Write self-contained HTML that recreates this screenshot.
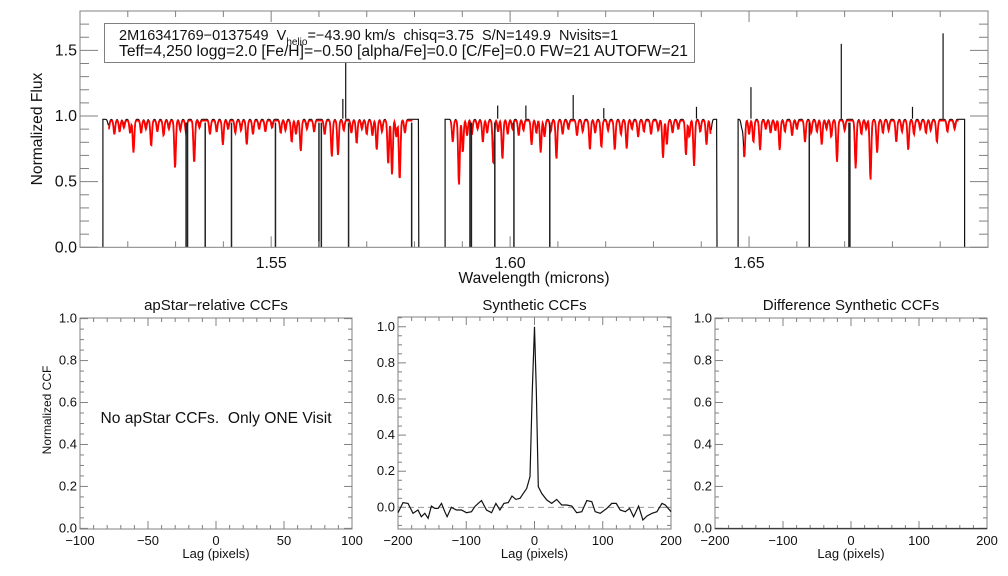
<!DOCTYPE html>
<html><head><meta charset="utf-8"><style>
body{margin:0;background:#fff}
svg{display:block;font-family:"Liberation Sans",sans-serif}
</style></head><body>
<svg id="fig" width="1008" height="576" viewBox="0 0 1008 576">
<rect width="1008" height="576" fill="#fff"/>
<g id="topPanel"></g>
<g id="p1"></g>
<g id="p2"></g>
<g id="p3"></g>
</svg>
<script>
// ---- spectrum data ----
const chipStarts=[1.5148,1.5864,1.6477];
const chipEnds=[1.5809,1.6433,1.6951];
const redDipWave=[1.5205,1.5212,1.5249,1.5299,1.5339,1.5399,1.5449,1.5543,1.5562,1.5627,1.5640,1.5679,1.5721,1.5745,1.5753,1.5769,
1.5893,1.5901,1.5943,1.5965,1.5984,1.6045,1.6064,1.6097,1.6167,1.6191,1.6219,1.6244,1.6320,1.6328,1.6368,1.6385,1.6411,
1.6490,1.6509,1.6523,1.6564,1.6617,1.6652,1.6684,1.6723,1.6754,1.6768,1.6808,1.6833,1.6893];
const redDipFlux=[0.87,0.72,0.77,0.60,0.64,0.78,0.78,0.80,0.73,0.69,0.70,0.79,0.74,0.63,0.55,0.51,
0.47,0.72,0.80,0.63,0.67,0.78,0.72,0.67,0.74,0.76,0.74,0.75,0.68,0.78,0.70,0.62,0.78,
0.68,0.80,0.74,0.74,0.80,0.78,0.65,0.60,0.51,0.72,0.80,0.74,0.80];
const shallowWave=[1.5160,1.5172,1.5183,1.5192,1.5228,1.5238,1.5262,1.5275,1.5286,1.5310,1.5322,1.5350,1.5372,1.5386,1.5410,1.5425,1.5437,1.5462,1.5475,1.5488,1.5502,1.5520,1.5530,1.5552,1.5575,1.5590,1.5612,1.5652,1.5668,1.5690,1.5700,1.5712,1.5732,1.5762,1.5780,
1.5880,1.5910,1.5920,1.5932,1.5952,1.5975,1.5995,1.6005,1.6018,1.6028,1.6055,1.6072,1.6085,1.6110,1.6122,1.6140,1.6152,1.6178,1.6205,1.6232,1.6255,1.6268,1.6280,1.6295,1.6310,1.6340,1.6352,1.6375,1.6398,1.6420,
1.6485,1.6500,1.6535,1.6545,1.6555,1.6575,1.6590,1.6600,1.6630,1.6642,1.6662,1.6672,1.6700,1.6735,1.6745,1.6780,1.6792,1.6820,1.6845,1.6858,1.6870,1.6880,1.6915,1.6930];
const shallowFlux=[0.90,0.86,0.88,0.91,0.87,0.90,0.88,0.85,0.90,0.89,0.87,0.91,0.86,0.88,0.90,0.87,0.89,0.86,0.90,0.88,0.91,0.87,0.89,0.86,0.90,0.88,0.86,0.89,0.87,0.90,0.86,0.85,0.88,0.84,0.87,
0.80,0.85,0.86,0.90,0.87,0.88,0.86,0.90,0.85,0.89,0.87,0.84,0.88,0.86,0.90,0.85,0.88,0.87,0.89,0.86,0.90,0.84,0.88,0.86,0.89,0.87,0.90,0.84,0.88,0.86,
0.88,0.86,0.90,0.87,0.89,0.88,0.85,0.90,0.87,0.88,0.90,0.84,0.89,0.86,0.90,0.87,0.89,0.88,0.86,0.90,0.87,0.89,0.88,0.90];
const zeroDropWave=[1.5322,1.5325,1.5362,1.5417,1.5509,1.5600,1.5605,1.5662,1.5794,1.5916,1.5919,1.5968,1.6008,1.6083,1.6626,1.6709,1.6711];
const spikeWave=[1.5656,1.5650,1.6132,1.5974,1.6033,1.6196,1.6390,1.6504,1.6693,1.6906,1.6842];
const spikeFlux=[1.41,1.13,1.16,1.08,1.08,1.06,1.07,1.22,1.55,1.63,1.07];
const xTicksTop=[1.55,1.60,1.65];
const yTicksTop=[0.0,0.5,1.0,1.5];
// ---- CCF data ----
const ccfLag=[-200,-192.7,-185.4,-178,-170.7,-165.8,-160.8,-155.9,-151,-146.1,-141.2,-136.3,-131.5,-128,-121.7,-114.4,-107,-99.6,-92.3,-87.4,-82.5,-77.6,-70.3,-62.9,-56.5,-50.7,-44.8,-38.4,-33,-27.2,-21.3,-16.4,-11.5,-6.6,-3.2,0,2.7,5.6,10.5,17.9,25.2,32.6,39.9,47.2,54.6,61.9,69.3,76.6,84,88.9,96.2,106,113.3,119.7,125.6,133,139.3,145.2,152.5,158.9,164.8,172.1,179.4,186.8,191.7,200];
const ccfVal=[-0.03,0.026,0.022,-0.033,-0.015,-0.052,-0.033,-0.061,0.007,-0.006,-0.006,0.022,-0.024,-0.052,0,-0.015,-0.015,-0.03,-0.024,0.004,0.022,0.037,-0.015,-0.03,0.022,-0.015,0.022,0.026,0.063,0.044,0.05,0.077,0.105,0.17,0.65,1.0,0.65,0.114,0.077,0.041,0.022,0.044,0.013,0.013,0.007,-0.03,-0.024,0.037,0.031,-0.024,-0.033,-0.006,0.022,0.022,-0.015,-0.024,-0.006,-0.052,0.007,-0.07,-0.048,-0.033,-0.024,0.022,0.013,-0.024];
const ccfYTicks=[0.0,0.2,0.4,0.6,0.8,1.0];
const lagTicks100=[-100,-50,0,50,100];
const lagTicks200=[-200,-100,0,100,200];

const NS='http://www.w3.org/2000/svg';
function el(tag,attrs,parent,txt){const e=document.createElementNS(NS,tag);for(const k in attrs)e.setAttribute(k,attrs[k]);if(txt!==undefined)e.textContent=txt;parent.appendChild(e);return e;}
const AX='#808080';
function fmt(v,d){return v<0?'\u2212'+Math.abs(v).toFixed(d):v.toFixed(d);}

// ---------- TOP PANEL ----------
const topG=document.getElementById('topPanel');
const T={x0:80,x1:988,y0:11,y1:247.3,wmin:1.51,wmax:1.70,fmin:0,fmax:1.8};
const sx=w=>T.x0+(w-T.wmin)/(T.wmax-T.wmin)*(T.x1-T.x0);
const sy=f=>T.y1-(f-T.fmin)/(T.fmax-T.fmin)*(T.y1-T.y0);
function profile(x,cont,waves,fluxes,sig){let f=cont;for(let i=0;i<waves.length;i++){const d=(x-sx(waves[i]))/sig;if(Math.abs(d)<4)f-=(cont-fluxes[i])*Math.exp(-d*d);}return f;}
const allW=redDipWave.concat(shallowWave), allF=redDipFlux.concat(shallowFlux);
const allFb=allF.map(v=>v+0.03);
for(let c=0;c<chipStarts.length;c++){
  const xa=sx(chipStarts[c]),xb=sx(chipEnds[c]);
  let pb=[],pr=[];
  pb.push(xa.toFixed(1)+','+sy(0).toFixed(1));
  for(let x=xa;x<=xb;x+=0.5){
    pb.push(x.toFixed(1)+','+sy(profile(x,0.975,allW,allFb,1.3)).toFixed(1));
    if(x>xa+5&&x<xb-6)pr.push(x.toFixed(1)+','+sy(profile(x,0.965,allW,allF,1.1)).toFixed(1));
  }
  pb.push(xb.toFixed(1)+','+sy(0).toFixed(1));
  const b=el('polyline',{points:pb.join(' '),fill:'none',stroke:'#111','stroke-width':1.2},topG);
  
  
  const r=el('polyline',{points:pr.join(' '),fill:'none',stroke:'#f00','stroke-width':1.8},topG);
  
  
}
zeroDropWave.forEach(w=>{const l=el('line',{x1:sx(w),x2:sx(w),y1:sy(0.95),y2:sy(0),stroke:'#222','stroke-width':1.5},topG);
  
  });
spikeWave.forEach((w,i)=>{const l=el('line',{x1:sx(w),x2:sx(w),y1:sy(0.98),y2:sy(spikeFlux[i]),stroke:'#111','stroke-width':1.2},topG);
  
  });
const fr=el('rect',{x:T.x0,y:T.y0,width:T.x1-T.x0,height:T.y1-T.y0,fill:'none',stroke:AX,'stroke-width':1},topG);


for(let k=151;k<=170;k++){const w=k/100;const x=sx(w);const maj=k%5===0;const L=maj?11:6;
  el('line',{x1:x,x2:x,y1:T.y1,y2:T.y1-L,stroke:AX},topG);el('line',{x1:x,x2:x,y1:T.y0,y2:T.y0+L,stroke:AX},topG);}
for(let k=0;k<=18;k++){const y=sy(k/10);const maj=k%5===0;const L=maj?18:9;
  el('line',{x1:T.x0,x2:T.x0+L,y1:y,y2:y,stroke:AX},topG);el('line',{x1:T.x1,x2:T.x1-L,y1:y,y2:y,stroke:AX},topG);}
xTicksTop.forEach(w=>{const t=el('text',{x:sx(w),y:268,'font-size':16,'text-anchor':'middle',fill:'#111'},topG,w.toFixed(2));
  
  });
yTicksTop.forEach(v=>{const t=el('text',{x:77,y:sy(v)+5,'font-size':16,'text-anchor':'end',fill:'#111'},topG,v.toFixed(1));
  
  });
let t=el('text',{x:534,y:283,'font-size':15.6,'text-anchor':'middle',fill:'#111'},topG,'Wavelength (microns)');


t=el('text',{x:0,y:0,'font-size':15.6,'text-anchor':'middle',fill:'#111',transform:'translate(42,129) rotate(-90)'},topG,'Normalized Flux');


const box=el('rect',{x:104.5,y:23.5,width:590,height:39,fill:'#fff',stroke:AX},topG);


t=el('text',{x:119,y:40,'font-size':14.5,fill:'#111'},topG);


el('tspan',{},t,'2M16341769\u22120137549\u00a0 V');
el('tspan',{'font-size':10,dy:5},t,'helio');
el('tspan',{dy:-5},t,'=\u221243.90 km/s\u00a0 chisq=3.75\u00a0 S/N=149.9\u00a0 Nvisits=1');
t=el('text',{x:119,y:56,'font-size':15.5,fill:'#111',textLength:569,lengthAdjust:'spacingAndGlyphs'},topG,'Teff=4,250 logg=2.0 [Fe/H]=\u22120.50 [alpha/Fe]=0.0 [C/Fe]=0.0 FW=21 AUTOFW=21');



// ---------- CCF PANELS ----------
function panel(g,P,xt,title,ylabel){
  const X=v=>P.x0+(v-P.lmin)/(P.lmax-P.lmin)*(P.x1-P.x0);
  const Y=v=>P.y1-(v-P.vmin)/(P.vmax-P.vmin)*(P.y1-P.y0);
  const r=el('rect',{x:P.x0,y:P.y0,width:P.x1-P.x0,height:P.y1-P.y0,fill:'none',stroke:AX},g);
  
  
  const step=(P.lmax-P.lmin)/20;
  for(let k=0;k<=20;k++){const x=X(P.lmin+k*step);const L=k%5===0?8:4;
    el('line',{x1:x,x2:x,y1:P.y1,y2:P.y1-L,stroke:AX},g);el('line',{x1:x,x2:x,y1:P.y0,y2:P.y0+L,stroke:AX},g);}
  for(let k=Math.ceil(P.vmin/0.05);k*0.05<=P.vmax+1e-9;k++){const y=Y(k*0.05);const L=k%4===0?8:4;
    el('line',{x1:P.x0,x2:P.x0+L,y1:y,y2:y,stroke:AX},g);el('line',{x1:P.x1,x2:P.x1-L,y1:y,y2:y,stroke:AX},g);}
  xt.forEach(v=>{const tt=el('text',{x:X(v),y:545,'font-size':13,'text-anchor':'middle',fill:'#111'},g,fmt(v,0));
    
    });
  ccfYTicks.forEach(v=>{const tt=el('text',{x:P.x0-3,y:Y(v)+4,'font-size':13,'text-anchor':'end',fill:'#111'},g,v.toFixed(1));
    
    });
  let tt=el('text',{x:(P.x0+P.x1)/2,y:558,'font-size':13,'text-anchor':'middle',fill:'#111'},g,'Lag (pixels)');
  
  
  tt=el('text',{x:(P.x0+P.x1)/2,y:310,'font-size':15,'text-anchor':'middle',fill:'#111'},g,title);
  
  
  if(ylabel){tt=el('text',{x:0,y:0,'font-size':12,'text-anchor':'middle',fill:'#111',transform:'translate(51,410) rotate(-90)'},g,ylabel);
    
    }
  return {X,Y};
}
const g1=document.getElementById('p1');
panel(g1,{x0:80,x1:352,y0:318,y1:529,lmin:-100,lmax:100,vmin:-0.003,vmax:1.003},lagTicks100,'apStar\u2212relative CCFs','Normalized CCF');
t=el('text',{x:216,y:423,'font-size':15.6,'text-anchor':'middle',fill:'#111'},g1,'No apStar CCFs.\u00a0 Only ONE Visit');



const g2=document.getElementById('p2');
const A=panel(g2,{x0:398,x1:671,y0:317,y1:529,lmin:-200,lmax:200,vmin:-0.12,vmax:1.054},lagTicks200,'Synthetic CCFs',null);
t=el('line',{x1:398,x2:671,y1:A.Y(0),y2:A.Y(0),stroke:'#999','stroke-dasharray':'6,4'},g2);


const cp=ccfLag.map((l,i)=>A.X(l).toFixed(1)+','+A.Y(ccfVal[i]).toFixed(1)).join(' ');
t=el('polyline',{points:cp,fill:'none',stroke:'#111','stroke-width':1.2},g2);



const g3=document.getElementById('p3');
const B=panel(g3,{x0:715,x1:987,y0:318,y1:529,lmin:-200,lmax:200,vmin:-0.003,vmax:1.003},lagTicks200,'Difference Synthetic CCFs',null);
t=el('line',{x1:715,x2:987,y1:B.Y(0),y2:B.Y(0),stroke:'#333','stroke-width':1},g3);


</script>
</body></html>
